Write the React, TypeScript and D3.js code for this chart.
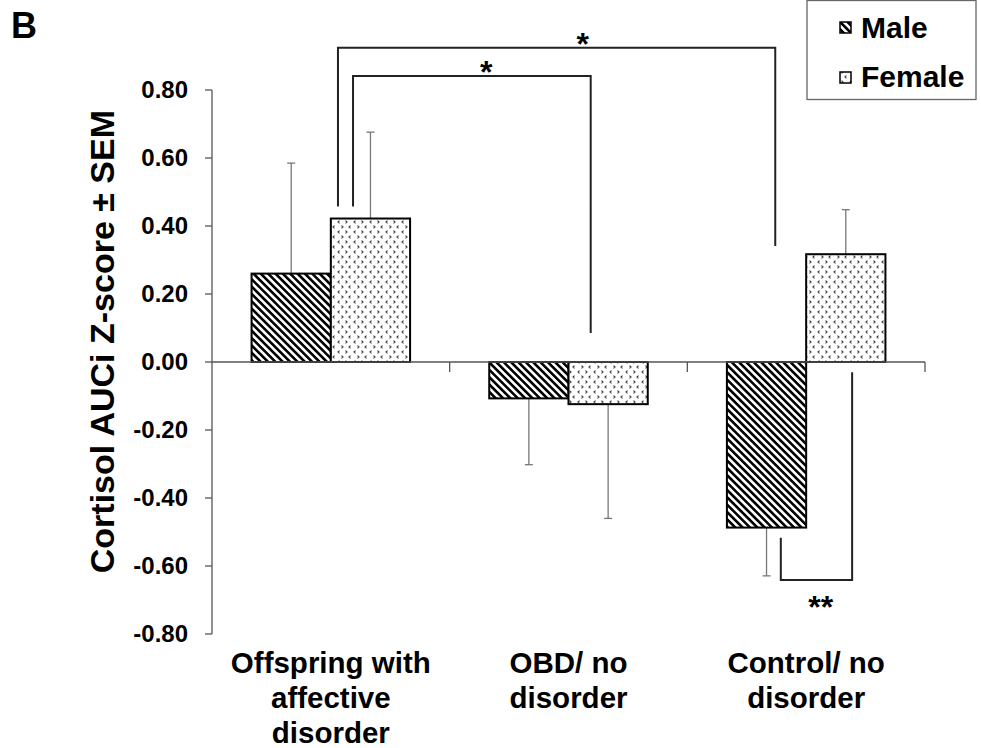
import React from "react";
import * as d3 from "d3";

// Groups, series and measured values
const categories = ["Offspring with affective disorder", "OBD/ no disorder", "Control/ no disorder"];
const categoryLines = [["Offspring with", "affective", "disorder"], ["OBD/ no", "disorder"], ["Control/ no", "disorder"]];
const sexes = ["Male", "Female"];
const maleMeans = [0.26, -0.107, -0.487];
const femaleMeans = [0.422, -0.124, 0.317];
const maleSem = [0.325, 0.195, 0.142];
const femaleSem = [0.254, 0.336, 0.131];
const yTicks = [0.8, 0.6, 0.4, 0.2, 0, -0.2, -0.4, -0.6, -0.8];

// Significance brackets: ends anchored to a bar (category index, sex, fraction across bar)
const brackets = [
  { label: "*", level: 0.924, from: { c: 0, s: "Female", f: 0.09, v: 0.457 }, to: { c: 2, s: "Male", f: 0.61, v: 0.341 } },
  { label: "*", level: 0.841, from: { c: 0, s: "Female", f: 0.28, v: 0.457 }, to: { c: 1, s: "Female", f: 0.28, v: 0.085 } },
  { label: "**", level: -0.641, from: { c: 2, s: "Male", f: 0.68, v: -0.517 }, to: { c: 2, s: "Female", f: 0.58, v: -0.03 } },
];

const W = 981;
const H = 748;
const FONT = "'Liberation Sans', Arial, Helvetica, sans-serif";

const fmt = (t: number) => d3.format(".2f")(t).replace("\u2212", "-");

export default function App() {
  const x = d3.scaleBand<string>().domain(categories).range([212, 925]).paddingInner(0).paddingOuter(0);
  const y = d3.scaleLinear().domain([-0.8, 0.8]).range([634, 90]);
  const groupW = x.bandwidth() * 0.667;
  const xs = d3.scaleBand<string>().domain(sexes).range([0, groupW]);
  const barX = (c: number, s: string) => (x(categories[c]) as number) + (x.bandwidth() - groupW) / 2 + (xs(s) as number);
  const bw = xs.bandwidth();

  const bars = categories.flatMap((cat, i) => [
    { c: i, s: "Male", v: maleMeans[i], e: maleSem[i], fill: "url(#hatch)" },
    { c: i, s: "Female", v: femaleMeans[i], e: femaleSem[i], fill: "url(#dots)" },
  ]);

  const axisColor = "#555";
  const boundaries = [...categories.map((c) => x(c) as number), x.range()[1]];

  return (
    <svg width={W} height={H} style={{ position: "absolute", left: 0, top: 0, background: "#fff" }} fontFamily={FONT}>
      <defs>
        <pattern id="hatch" patternUnits="userSpaceOnUse" width="5.2" height="10" patternTransform="rotate(-45)">
          <rect width="5.2" height="10" fill="#fff" />
          <rect width="2.6" height="10" fill="#000" />
        </pattern>
        <pattern id="dots" patternUnits="userSpaceOnUse" width="16" height="10">
          <rect width="16" height="10" fill="#fff" />
          <g stroke="#333" strokeWidth="1.1" fill="none">
            <polyline points="3.5,0.7 2,2 3.5,3.3" />
            <polyline points="9.5,0.7 11,2 9.5,3.3" />
            <polyline points="5.5,5.7 7,7 5.5,8.3" />
            <polyline points="14.5,5.7 13,7 14.5,8.3" />
          </g>
        </pattern>
      </defs>

      <text x={11} y={38} fontSize={36} fontWeight="bold">B</text>

      {/* y axis */}
      <line x1={212} x2={212} y1={y(0.8)} y2={y(-0.8)} stroke={axisColor} strokeWidth={1.3} />
      {yTicks.map((t) => (
        <g key={t}>
          <line x1={205} x2={212} y1={y(t)} y2={y(t)} stroke={axisColor} strokeWidth={1.3} />
          <text x={188} y={y(t) + 8} textAnchor="end" fontSize={24} fontWeight="bold">{fmt(t)}</text>
        </g>
      ))}
      <text transform={`translate(114,${y(0.06)}) rotate(-90)`} textAnchor="middle" fontSize={34} fontWeight="bold">
        Cortisol AUCi Z-score ± SEM
      </text>

      {/* error bars */}
      {bars.map((b, i) => {
        const cx = barX(b.c, b.s) + bw / 2;
        const end = b.v >= 0 ? b.v + b.e : b.v - b.e;
        return (
          <g key={"e" + i} stroke="#777" strokeWidth={1.3}>
            <line x1={cx} x2={cx} y1={y(b.v)} y2={y(end)} />
            <line x1={cx - 4} x2={cx + 4} y1={y(end)} y2={y(end)} />
          </g>
        );
      })}

      {/* bars */}
      {bars.map((b, i) => (
        <rect key={"b" + i} x={barX(b.c, b.s)} width={bw} y={y(Math.max(0, b.v))} height={Math.abs(y(b.v) - y(0))}
          fill={b.fill} stroke="#000" strokeWidth={2} />
      ))}

      {/* x axis */}
      <line x1={212} x2={x.range()[1]} y1={y(0)} y2={y(0)} stroke={axisColor} strokeWidth={1.3} />
      {boundaries.slice(1).map((bx, i) => (
        <line key={"t" + i} x1={bx} x2={bx} y1={y(0)} y2={y(0) + 10} stroke={axisColor} strokeWidth={1.3} />
      ))}
      {categoryLines.map((lines, i) => (
        <text key={"c" + i} x={(x(categories[i]) as number) + x.bandwidth() / 2} textAnchor="middle" fontSize={29.5} fontWeight="bold">
          {lines.map((l, j) => (
            <tspan key={j} x={(x(categories[i]) as number) + x.bandwidth() / 2} y={673 + j * 35}>{l}</tspan>
          ))}
        </text>
      ))}

      {/* significance brackets */}
      {brackets.map((br, i) => {
        const x1 = barX(br.from.c, br.from.s) + bw * br.from.f;
        const x2 = barX(br.to.c, br.to.s) + bw * br.to.f;
        const yl = y(br.level);
        const path = d3.line()([[x1, y(br.from.v)], [x1, yl], [x2, yl], [x2, y(br.to.v)]]) as string;
        const above = br.level > 0;
        return (
          <g key={"k" + i}>
            <path d={path} fill="none" stroke="#222" strokeWidth={2} />
            <text x={x1 + (x2 - x1) * 0.56} y={above ? yl + 7 : yl + 38} textAnchor="middle" fontSize={32} fontWeight="bold">{br.label}</text>
          </g>
        );
      })}

      {/* legend */}
      <rect x={807} y={0.5} width={169} height={99} fill="#fff" stroke="#666" strokeWidth={1.3} />
      {sexes.map((s, i) => (
        <g key={s}>
          <rect x={840} y={22 + i * 50} width={11} height={11} fill={s === "Male" ? "url(#hatch)" : "url(#dots)"} stroke="#000" strokeWidth={1.5} />
          <text x={861} y={38 + i * 49} fontSize={30} fontWeight="bold">{s}</text>
        </g>
      ))}
    </svg>
  );
}
